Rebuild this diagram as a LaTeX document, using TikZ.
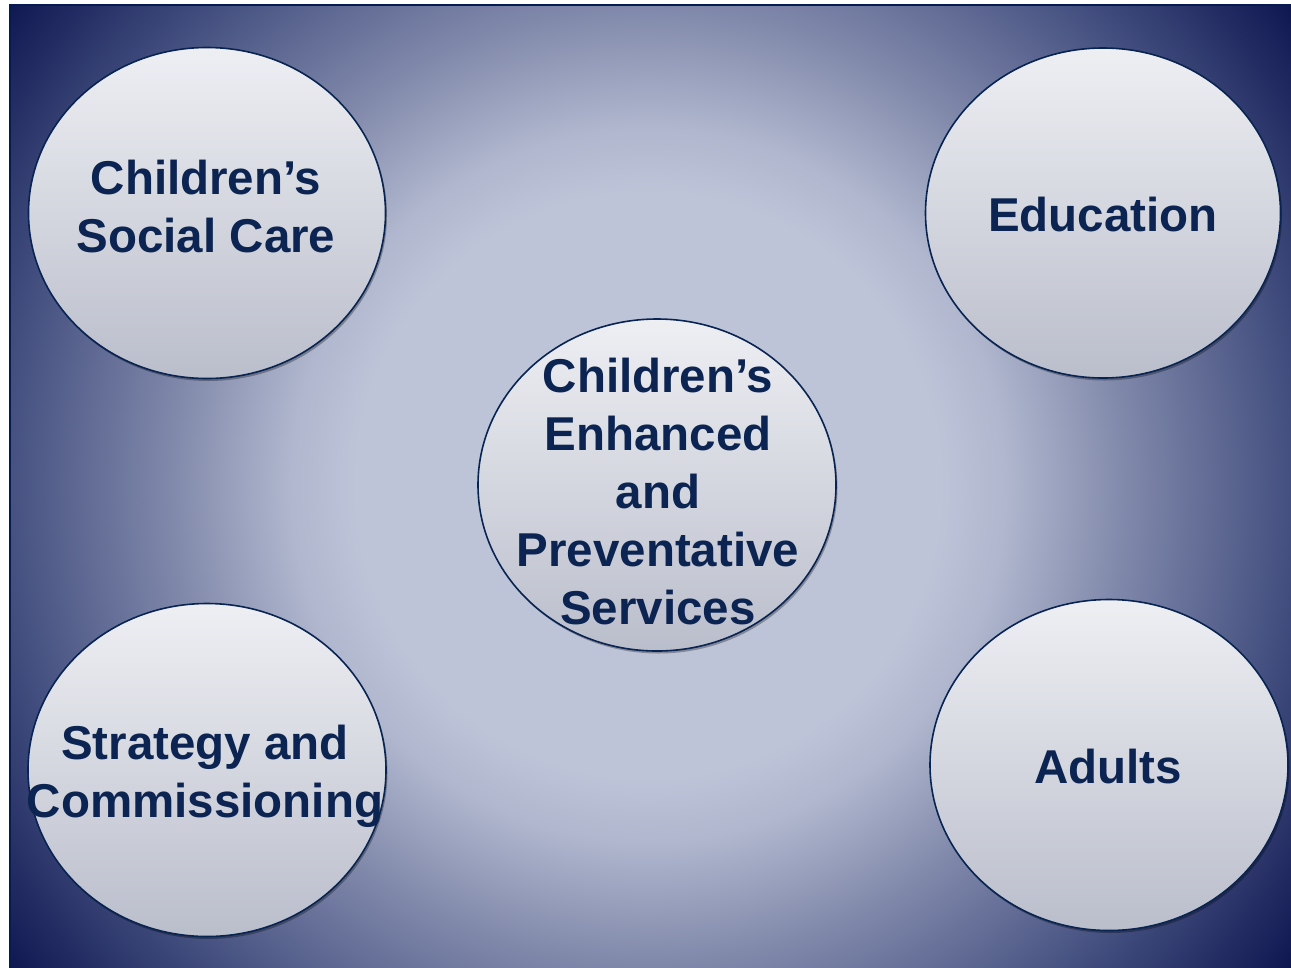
\documentclass[tikz,border=0pt]{standalone}
\usepackage{fontspec}
\setmainfont{Liberation Sans}
\usetikzlibrary{shapes.geometric,shadows}
\definecolor{bgc0}{RGB}{190,196,216}
\definecolor{bgc1}{RGB}{176,183,206}
\definecolor{bgc2}{RGB}{128,136,170}
\definecolor{bgc3}{RGB}{68,80,128}
\definecolor{bgc4}{RGB}{12,20,78}
\definecolor{ctop}{RGB}{238,239,243}
\definecolor{cbot}{RGB}{186,190,203}
\definecolor{cline}{RGB}{8,36,82}
\definecolor{ctext}{RGB}{12,36,82}
\definecolor{framecol}{RGB}{6,28,80}
\pgfdeclareradialshading{bgshade}{\pgfpoint{0bp}{0bp}}{color(0bp)=(bgc0); color(9bp)=(bgc0); color(11bp)=(bgc1); color(14.8bp)=(bgc2); color(19.8bp)=(bgc3); color(25bp)=(bgc4); color(50bp)=(bgc4)}
\pgfdeclareverticalshading{circshade}{100bp}{color(0bp)=(cbot); color(25bp)=(cbot); color(75bp)=(ctop); color(100bp)=(ctop)}
\begin{document}
\begin{tikzpicture}[x=1pt,y=-1pt,
  circ/.style={ellipse, draw=cline, line width=1.6pt, shading=circshade,
    drop shadow={shadow xshift=1.5pt, shadow yshift=-2.5pt, opacity=0.3, fill=black}},
  lbl/.style={font=\bfseries\fontsize{47.5}{58}\selectfont, text=ctext, align=center, inner sep=0pt}]
\useasboundingbox (0,0) rectangle (1291,967);
% background
\begin{scope}
  \clip (10,5) rectangle (1300,980);
  \fill[bgc4] (10,5) rectangle (1300,980);
  \shade[shading=bgshade] (648,485) circle[radius=810pt];
\end{scope}
\draw[framecol, line width=2pt] (10,980) -- (10,5) -- (1300,5);
% circles
\node[circ, minimum width=357pt, minimum height=331pt] (csc) at (207,213) {};
\node[circ, minimum width=355pt, minimum height=330pt] (edu) at (1103,213) {};
\node[circ, minimum width=358pt, minimum height=332pt] (cep) at (657,485) {};
\node[circ, minimum width=358pt, minimum height=333pt] (sac) at (207,770) {};
\node[circ, minimum width=358pt, minimum height=331pt] (adu) at (1109,765) {};
% labels (anchor=base is the baseline of the last line)
\node[lbl, anchor=base] (csct) at (206,252) {Children’s\\Social Care};
\node[lbl, anchor=base] (edut) at (1103,231) {Education};
\node[lbl, anchor=base] (cept) at (658,624) {Children’s\\Enhanced\\and\\Preventative\\Services};
\node[lbl, anchor=base] (sact) at (205,817) {Strategy and\\Commissioning};
\node[lbl, anchor=base] (adut) at (1108,783) {Adults};
\end{tikzpicture}
\end{document}
